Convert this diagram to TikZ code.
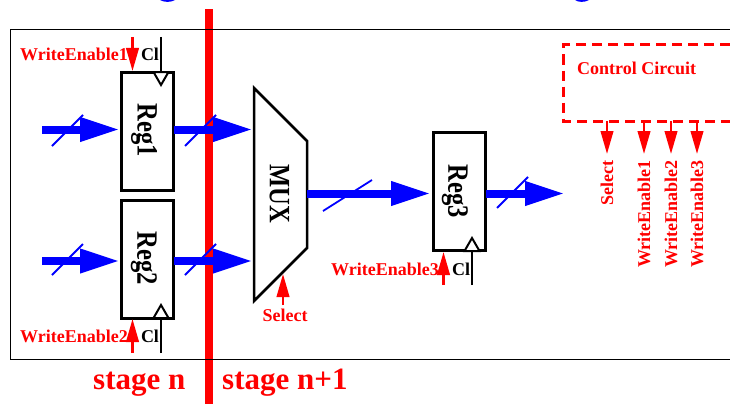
\documentclass[tikz,border=0pt]{standalone}
\usepackage{fontspec}
\setmainfont{Liberation Serif}
\usetikzlibrary{arrows.meta}
\tikzset{
  regbox/.style={draw,line width=3pt,minimum width=52pt,minimum height=118pt,inner sep=0pt},
  bus/.style={blue,line width=8pt,-{Triangle[length=40pt,width=22.5pt]}},
  slash/.style={blue,line width=1.8pt},
  sig/.style={red,line width=2.5pt,-{Triangle[length=23pt,width=12.5pt]}},
  clk/.style={line width=2.5pt},
  tri/.style={fill=white,line width=2pt},
  lab/.style={red,font=\fontsize{18}{20}\selectfont\bfseries,inner sep=0pt},
  cl/.style={font=\fontsize{18}{20}\selectfont\bfseries,inner sep=0pt},
  regtext/.style={font=\fontsize{24.6}{28}\selectfont\bfseries,rotate=-90,inner sep=0pt},
  stagetext/.style={red,font=\fontsize{31}{34}\selectfont\bfseries,inner sep=0pt,anchor=base west}
}
\newcommand{\tallbox}[1]{\scalebox{1}[1.2]{#1}}
\begin{document}
\begin{tikzpicture}[x=1pt,y=-1pt] % sizes in pixels of the 730x404 frame
  \useasboundingbox (0,0) rectangle (730,404);
  \fill[blue] (160,0) .. controls (164,2.5) and (171,2.5) .. (175,0) -- cycle;
  \fill[blue] (575,0) .. controls (578,2.5) and (585,2.5) .. (589,0) -- cycle;
  \fill[red] (205,9) rectangle (213,404);
  \draw[line width=1pt] (730,30) -- (10,30) -- (10,359) -- (730,359);

  \node[regbox] (reg1) at (147.5,131) {};
  \node[regbox] (reg2) at (147.5,259) {};
  \node[regbox] (reg3) at (459,191.7) {};
  \node[regtext] at (144,130.5) {\tallbox{Reg1}};
  \node[regtext] at (144,258.5) {\tallbox{Reg2}};
  \node[regtext] at (455,191.5) {\tallbox{Reg3}};

  \draw[line width=2.5pt,fill=white] (254,88) -- (307,141) -- (307,248) -- (254,301) -- cycle;
  \node[regtext] (mux) at (279.5,194) {\tallbox{MUX}};
  \coordinate (mux1) at (253,129.5);
  \coordinate (mux2) at (253,261);
  \coordinate (muxout) at (307,193.5);
  \coordinate (muxsel) at (283,274);

  % clocks
  \coordinate (clk1) at (161,37);
  \coordinate (clk2) at (161,353);
  \coordinate (clk3) at (472,285);
  \draw[tri] (153.5,72) -- (168.5,72) -- (161,85) -- cycle;
  \draw[tri] (153.5,318) -- (168.5,318) -- (161,305) -- cycle;
  \draw[tri] (464.5,251) -- (479.5,251) -- (472,238) -- cycle;
  \draw[clk] (clk1) -- (161,71);
  \draw[clk] (clk2) -- (161,319);
  \draw[clk] (clk3) -- (472,252);
  \node[cl] (cl1) at (150,54) {Cl};
  \node[cl] (cl2) at (150,336) {Cl};
  \node[cl] (cl3) at (461,269) {Cl};

  % data buses
  \coordinate (in1) at (42,129.5);
  \coordinate (in2) at (42,261);
  \coordinate (out3) at (565,193.5);
  \coordinate (reg3in) at (431,193.5);
  \draw[bus] (in1) -- (120,129.5);
  \draw[bus] (in2) -- (120,261);
  \draw[bus] (174,129.5) -- (mux1);
  \draw[bus] (174,261) -- (mux2);
  \draw[bus] (muxout) -- (reg3in);
  \draw[bus] (486,193.5) -- (out3);
  \foreach \x/\y in {52/146,185/146,52/275,185/275,497/208}
    \draw[slash] (\x,\y) -- +(31,-31);
  \draw[slash] (323,211) -- (372,180);

  % enables
  \coordinate (we1) at (132.5,37);
  \coordinate (we2) at (132.5,353);
  \coordinate (we3) at (443.5,285);
  \coordinate (sel) at (283,305);
  \draw[sig] (we1) -- (132.5,71);
  \draw[sig] (we2) -- (132.5,319);
  \draw[sig] (we3) -- (443.5,252);
  \draw[sig] (sel) -- (muxsel);
  \node[lab,anchor=west] (we1text) at (20,54) {WriteEnable1};
  \node[lab,anchor=west] (we2text) at (20,336) {WriteEnable2};
  \node[lab,anchor=west] (we3text) at (331,269) {WriteEnable3};
  \node[lab] (seltext) at (285,315) {Select};

  % control
  \draw[red,line width=3pt,dash pattern=on 10pt off 6pt] (730,45) -- (563.5,45) -- (563.5,121) -- (730,121);
  \node[lab,anchor=west] (ctrl) at (577,68) {Control Circuit};
  \foreach \x/\t/\n in {607/Select/s,644/WriteEnable1/a,671/WriteEnable2/b,697/WriteEnable3/c} {
    \coordinate (c\n) at (\x,121);
    \node[lab,rotate=90,anchor=east] (l\n) at (\x,160) {\t};
    \draw[sig] (c\n) -- (\x,154);
  }

  \node[stagetext] (stagen) at (93,389) {stage n};
  \node[stagetext] (stagenn) at (222,389) {stage n+1};
\end{tikzpicture}
\end{document}
